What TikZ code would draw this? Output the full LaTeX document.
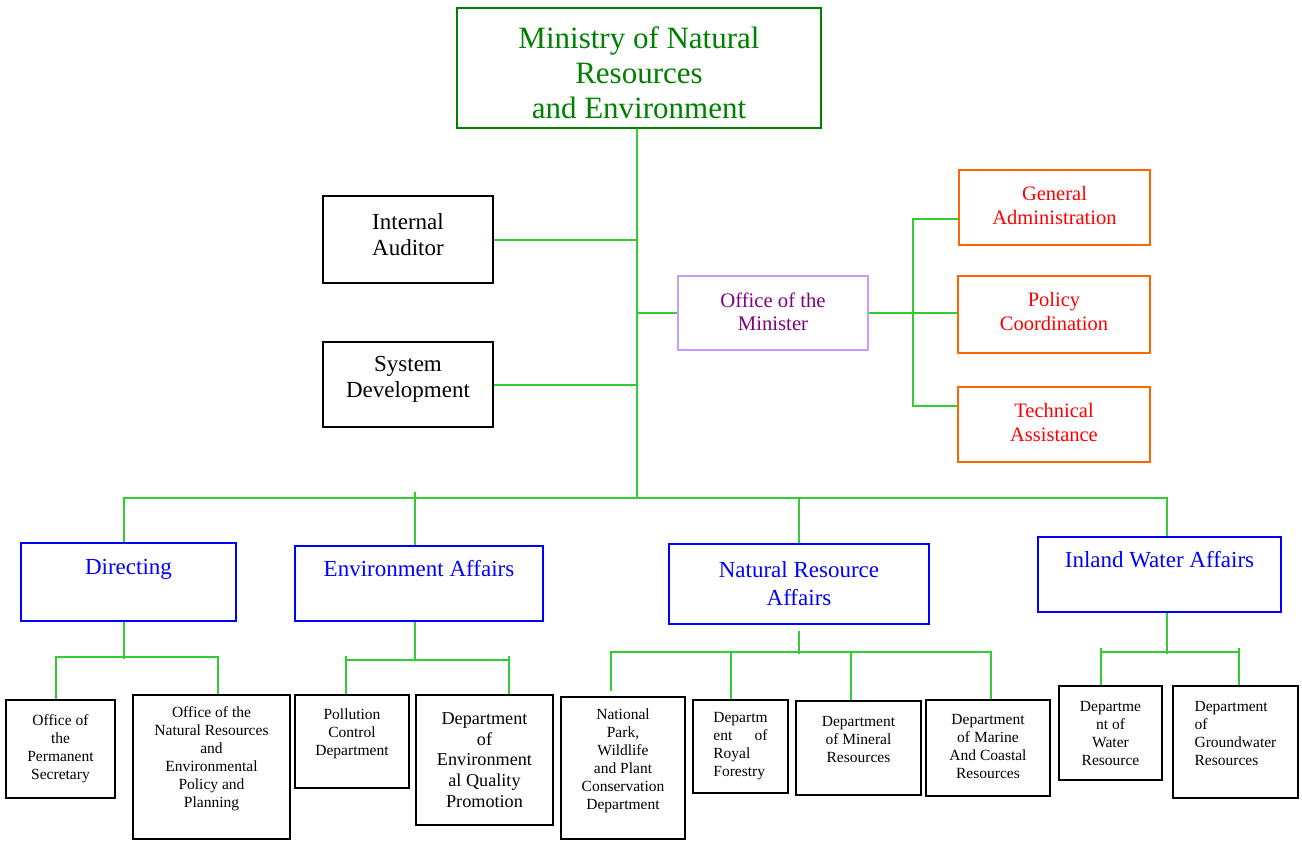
\documentclass[tikz,border=0pt]{standalone}
\usepackage{fontspec}
\usepackage{calc}
\setmainfont{Liberation Serif}
\definecolor{linkgreen}{RGB}{51,204,51}
\definecolor{ministrygreen}{RGB}{0,128,0}
\definecolor{unitblue}{RGB}{0,0,255}
\definecolor{staffred}{RGB}{255,0,0}
\definecolor{stafforange}{RGB}{255,102,0}
\definecolor{ministerlilac}{RGB}{204,153,255}
\definecolor{ministerpurple}{RGB}{128,0,128}
\begin{document}
\begin{tikzpicture}[
    x=1pt, y=-1pt,
    box/.style={draw, line width=2pt, inner sep=0pt, align=center},
    ministry/.style={box, draw=ministrygreen, text=ministrygreen, font=\fontsize{31}{35}\selectfont},
    staff/.style={box, draw=black, font=\fontsize{23}{26.5}\selectfont},
    minister/.style={box, draw=ministerlilac, text=ministerpurple, font=\fontsize{20.7}{23.5}\selectfont},
    support/.style={box, draw=stafforange, text=staffred, font=\fontsize{20.5}{24}\selectfont},
    division/.style={box, draw=unitblue, text=unitblue, font=\fontsize{23}{28}\selectfont},
    dept/.style={box, draw=black, font=\fontsize{15.5}{18}\selectfont},
    lift/.style={text depth=#1},
    wire/.style={draw=linkgreen, line width=2pt}
]
\useasboundingbox (0,0) rectangle (1302,841);

% top level
\node[ministry, minimum width=364pt, minimum height=120pt, text height=101pt] (ministry) at (639,68)
    {Ministry of Natural\\Resources\\and Environment};
\coordinate (hub) at (637,499);
\coordinate (rbus) at (913,313);

\node[staff, minimum width=170pt, minimum height=87pt, lift=10pt] (auditor) at (408,239.5)
    {Internal\\Auditor};
\node[staff, minimum width=170pt, minimum height=85pt, lift=15pt] (sysdev) at (408,384.5)
    {System\\Development};
\node[minister, minimum width=190pt, minimum height=74pt, lift=3pt] (minister) at (773,313)
    {Office of the\\Minister};
\node[support, minimum width=191pt, minimum height=75pt, lift=4pt] (genadmin) at (1054.5,207.5)
    {General\\Administration};
\node[support, minimum width=192pt, minimum height=77pt, lift=7pt] (policy) at (1054,314.5)
    {Policy\\Coordination};
\node[support, minimum width=192pt, minimum height=75pt, lift=4pt] (techassist) at (1054,424.5)
    {Technical\\Assistance};

% divisions
\node[division, minimum width=215pt, minimum height=78pt, text height=16pt, lift=31pt] (directing) at (128.5,582)
    {Directing};
\node[division, minimum width=248pt, minimum height=75pt, text height=16pt, lift=31pt] (envaff) at (419,583.5)
    {Environment Affairs};
\node[division, minimum width=260pt, minimum height=80pt] (natres) at (799,584)
    {Natural Resource\\Affairs};
\node[division, minimum width=243pt, minimum height=75pt, text height=16pt, lift=31pt] (inland) at (1159.5,574.5)
    {Inland Water Affairs};

% departments
\node[dept, minimum width=109pt, minimum height=98pt] (permsec) at (60.5,749)
    {Office of\\the\\Permanent\\Secretary};
\node[dept, minimum width=157pt, minimum height=144pt, lift=19pt] (nrepp) at (211.5,767)
    {Office of the\\Natural Resources\\and\\Environmental\\Policy and\\Planning};
\node[dept, minimum width=114pt, minimum height=93pt, lift=19pt] (pollution) at (352,741.5)
    {Pollution\\Control\\Department};
\node[dept, minimum width=137pt, minimum height=130pt, font=\fontsize{18.2}{20.7}\selectfont] (envquality) at (484.5,760)
    {Department\\of\\Environment\\al Quality\\Promotion};
\node[dept, minimum width=124pt, minimum height=142pt, lift=17pt] (natpark) at (623,768)
    {National\\Park,\\Wildlife\\and Plant\\Conservation\\Department};
\node[dept, minimum width=95pt, minimum height=93pt, align=left] (forestry) at (740.5,746.5)
    {Departm\\\makebox[\widthof{Departm}][s]{ent of}\\Royal\\Forestry};
\node[dept, minimum width=125pt, minimum height=94pt, lift=18pt] (mineral) at (858.5,748)
    {Department\\of Mineral\\Resources};
\node[dept, minimum width=124pt, minimum height=96pt, lift=4pt] (marine) at (988,748)
    {Department\\of Marine\\And Coastal\\Resources};
\node[dept, minimum width=103pt, minimum height=94pt] (water) at (1110.5,733)
    {Departme\\nt of\\Water\\Resource};
\node[dept, minimum width=125pt, minimum height=112pt, align=left, lift=18pt] (groundwater) at (1235.5,742)
    {Department\\of\\Groundwater\\Resources};

% connectors
\draw[wire] (ministry.south -| hub) -- (hub);
\draw[wire] (auditor.east) -- (auditor.east -| hub);
\draw[wire] (sysdev.east) -- (sysdev.east -| hub);
\draw[wire] (minister.west -| hub) -- (minister.west);
\draw[wire] (minister.east) -- (minister.east -| policy.west);
\draw[wire] ([yshift=-11.5pt]genadmin.west) -| (rbus) |- ([yshift=18.5pt]techassist.west);

\draw[wire] ([xshift=-4.5pt]directing.north) -- ++(0,-44) -| ([xshift=7.5pt]inland.north);
\draw[wire] ([xshift=-4pt]envaff.north) -- ++(0,-53);
\draw[wire] (natres.north) -- (natres.north |- hub);

\draw[wire] ([xshift=-4.5pt]directing.south) -- ++(0,37);
\draw[wire] ([xshift=-4.5pt]permsec.north) -- ++(0,-42) -| ([xshift=6.5pt]nrepp.north);

\draw[wire] ([xshift=-4pt]envaff.south) -- ++(0,39);
\draw[wire] ([xshift=-6pt]pollution.north) -- ++(0,-38);
\draw[wire] ([xshift=24.5pt]envquality.north) -- ++(0,-38);
\draw[wire] ([xshift=-6pt,yshift=34pt]pollution.north) -- ([xshift=24.5pt,yshift=34pt]envquality.north);

\draw[wire] ([yshift=-6pt]natres.south) -- ++(0,23);
\draw[wire] ([xshift=-12pt,yshift=5pt]natpark.north) -- ++(0,-39) -| ([xshift=3pt]marine.north);
\draw[wire] ([xshift=-9.5pt]forestry.north) -- ++(0,-47);
\draw[wire] ([xshift=-7.5pt]mineral.north) -- ++(0,-48);

\draw[wire] ([xshift=7.5pt]inland.south) -- ++(0,41);
\draw[wire] ([xshift=-9.5pt]water.north) -- ++(0,-37);
\draw[wire] ([xshift=3.5pt]groundwater.north) -- ++(0,-37);
\draw[wire] ([xshift=-9.5pt,yshift=33pt]water.north) -- ([xshift=3.5pt,yshift=33pt]groundwater.north);
\end{tikzpicture}
\end{document}
